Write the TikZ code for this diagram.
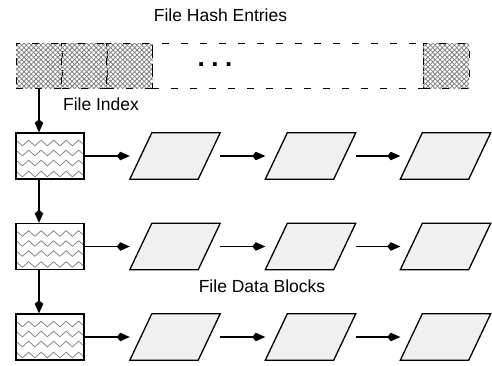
\documentclass[tikz,border=0pt]{standalone}
\usepackage{fontspec}
\setmainfont{Liberation Sans}
\usetikzlibrary{arrows.meta,patterns.meta,decorations.pathmorphing}
\definecolor{blkfill}{HTML}{F0F0F0}
\definecolor{hatchgray}{HTML}{7A7A7A}
\begin{document}
\begin{tikzpicture}[x=1pt,y=-1pt,
  lbl/.style={font=\fontsize{17.5}{20}\selectfont, anchor=base, inner sep=0},
  hcell/.style={draw, dash pattern=on 7pt off 12pt, line width=0.9pt,
    minimum width=46pt, minimum height=45pt, inner sep=0,
    preaction={pattern={Lines[angle=45,distance=3.4pt,line width=0.75pt]}, pattern color=hatchgray},
    preaction={pattern={Lines[angle=-45,distance=3.4pt,line width=0.75pt]}, pattern color=hatchgray}},
  mcell/.style={draw, dash pattern=on 7pt off 12pt, line width=0.9pt,
    minimum width=271pt, minimum height=45pt, inner sep=0},
  idxbox/.style={draw, line width=1.3pt, minimum width=68pt, minimum height=46pt, inner sep=0,
    fill=white,
    path picture={
      \foreach \k in {10,20,30,41}
        \draw[hatchgray, line width=0.7pt, decorate,
              decoration={zigzag, segment length=12.5pt, amplitude=2.8pt}]
          ([xshift=-3pt,yshift=-\k pt]path picture bounding box.north west) --
          ([xshift=8pt,yshift=-\k pt]path picture bounding box.north east);
    }},
  blk/.style={minimum width=90pt, minimum height=46pt, inner sep=0},
  pshape/.style={draw=black, fill=blkfill, line width=1.3pt, line join=miter},
  arr/.style={line width=1.2pt, -{Kite[length=13pt,width=8.5pt,inset=3.5pt]}}
]
\useasboundingbox (0,0) rectangle (492,365);

% title
\node[lbl] (title) at (220.5,21) {File Hash Entries};

% hash entry bar
\node[hcell] (c1) at (39,65.5) {};
\node[hcell] (c2) at (84.5,65.5) {};
\node[hcell] (c3) at (129.5,65.5) {};
\node[mcell] (m) at (287.5,65.5) {};
\node[hcell] (c4) at (446,65.5) {};
\node[anchor=base, inner sep=0, font=\fontsize{26}{26}\selectfont\bfseries] (dots) at (215,66.5) {.\kern6.5pt.\kern6.5pt.};

\node[lbl] (fidx) at (101,110.7) {File Index};
\node[lbl] (fdb) at (262,292) {File Data Blocks};

% index boxes
\node[idxbox] (i1) at (50,156) {};
\node[idxbox] (i2) at (50,246.5) {};
\node[idxbox] (i3) at (50,337) {};

% data blocks
\foreach \r/\y in {1/156,2/246.5,3/337}{
  \node[blk] (p\r1) at (175,\y) {};
  \node[blk] (p\r2) at (310.5,\y) {};
  \node[blk] (p\r3) at (445.5,\y) {};
}
\foreach \n in {p11,p12,p13,p21,p22,p23,p31,p32,p33}
  \draw[pshape] (\n.south west) -- ([xshift=22pt]\n.north west) -- (\n.north east)
    -- ([xshift=-22pt]\n.south east) -- cycle;

% connectors
\draw[arr] (c1.south) -- (c1.south |- i1.north);
\draw[arr] (c1.south |- i1.south) -- (c1.south |- i2.north);
\draw[arr] (c1.south |- i2.south) -- (c1.south |- i3.north);
\foreach \r in {1,2,3}{
  \draw[arr] (i\r.east) -- (p\r1.west);
  \draw[arr] (p\r1.east) -- (p\r2.west);
  \draw[arr] (p\r2.east) -- (p\r3.west);
}
\end{tikzpicture}
\end{document}
